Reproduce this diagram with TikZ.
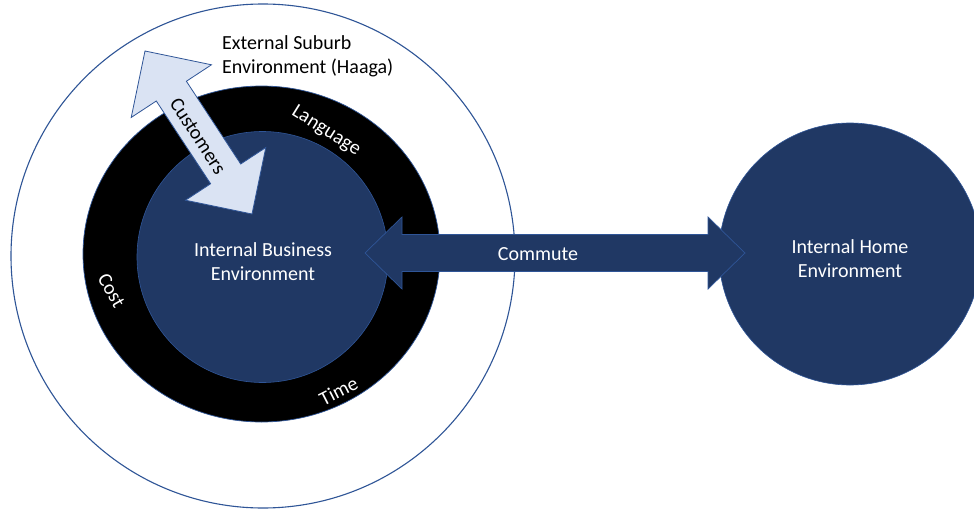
\documentclass[tikz,border=0pt]{standalone}
\usepackage{fontspec}
\setmainfont{Carlito}
\usetikzlibrary{calc,shapes.geometric}
\definecolor{navy}{HTML}{203864}
\definecolor{edgeblue}{HTML}{2F5597}
\definecolor{paleblue}{HTML}{DAE3F3}
% Block arrow with a head at both ends:
% #1 style, #2/#3 tip coordinates, #4 head length, #5 head half width, #6 shaft half width
\newcommand\twowayarrow[6]{%
  \draw[#1] (#2)
    -- ($(#2)!#4!(#3)!#5!90:(#3)$)
    -- ($(#2)!#4!(#3)!#6!90:(#3)$)
    -- ($(#3)!#4!(#2)!#6!-90:(#2)$)
    -- ($(#3)!#4!(#2)!#5!-90:(#2)$)
    -- (#3)
    -- ($(#3)!#4!(#2)!#5!90:(#2)$)
    -- ($(#3)!#4!(#2)!#6!90:(#2)$)
    -- ($(#2)!#4!(#3)!#6!-90:(#3)$)
    -- ($(#2)!#4!(#3)!#5!-90:(#3)$)
    -- cycle;}
\tikzset{
  lbl/.style={font=\fontsize{20}{24}\selectfont, inner sep=0pt},
  whitelbl/.style={lbl, text=white},
  disc/.style={circle, inner sep=0pt, fill=navy, draw=edgeblue, line width=0.6pt},
  navyarrow/.style={fill=navy, draw=edgeblue, line width=0.7pt, line join=miter},
  palearrow/.style={fill=paleblue, draw=edgeblue, line width=0.8pt, line join=miter},
}
\begin{document}
\begin{tikzpicture}[x=1pt,y=-1pt]
\path[use as bounding box, fill=white] (0,0) rectangle (974,511);

% suburb, barrier ring and business area
\node[circle, inner sep=0pt, draw=edgeblue, line width=1.1pt, fill=white,
      minimum size=504pt] (suburb) at (263,256) {};
\node[ellipse, inner sep=0pt, draw=edgeblue, line width=0.7pt, fill=black,
      minimum width=357pt, minimum height=336pt] (ring) at (261.5,254) {};
\node[disc, minimum size=251pt] (business) at (262.5,257) {};

% home
\node[disc, minimum size=262pt] (home) at (850,254) {};

% commute arrow
\coordinate (cmA) at (365,253);
\coordinate (cmB) at (745,253);
\twowayarrow{navyarrow}{cmA}{cmB}{37pt}{36pt}{18.5pt}

% customers arrow
\coordinate (cuA) at (145,51);
\coordinate (cuB) at (252,214);
\twowayarrow{palearrow}{cuA}{cuB}{48pt}{48pt}{18pt}

% labels
\node[lbl, anchor=north west, align=left] (suburbtext) at (222,35)
  {External Suburb\\Environment (Haaga)};
\node[whitelbl, anchor=north, align=center] (businesstext) at (263,242)
  {Internal Business\\Environment};
\node[whitelbl, anchor=north, align=center] (hometext) at (850,239)
  {Internal Home\\Environment};
\node[whitelbl, anchor=base] (commutetext) at (538,260.5) {Commute};
\node[lbl, rotate=-57] (customerstext) at (198,136) {Customers};
\node[whitelbl, rotate=-32] (languagetext) at (326,131) {Language};
\node[whitelbl, rotate=-60] (costtext) at (111.5,290.5) {Cost};
\node[whitelbl, rotate=27] (timetext) at (338.5,391) {Time};
\end{tikzpicture}
\end{document}
